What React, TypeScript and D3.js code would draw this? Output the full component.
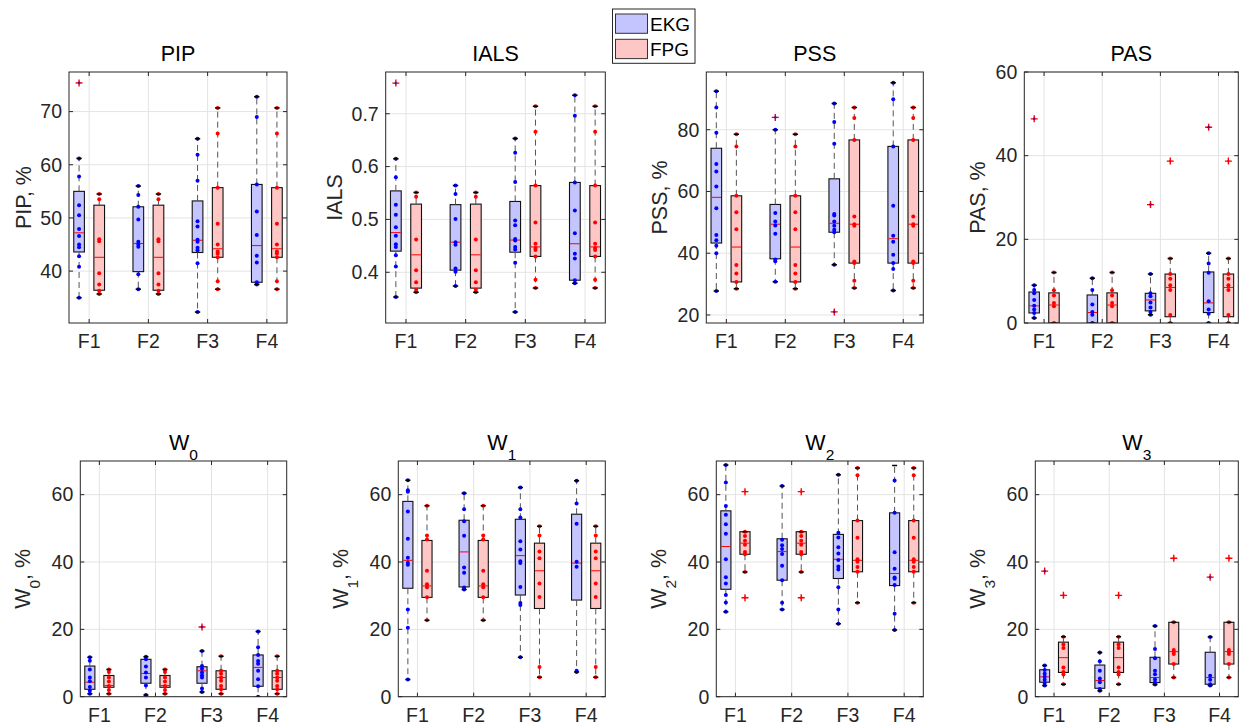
import React from 'react';
import * as d3 from 'd3';

const categories = ['F1', 'F2', 'F3', 'F4'];
const seriesNames = ['EKG', 'FPG'];

// stats per category: [whiskerLow, q1, median, q3, whiskerHigh]
// ---------- PIP ----------
const pipEkgStats = [[35.0, 43.6, 47.2, 55.0, 61.2], [36.6, 39.9, 45.2, 52.1, 56.0], [32.3, 43.5, 45.8, 53.2, 64.9], [37.5, 37.9, 44.8, 56.3, 72.8]];
const pipEkgPts = [[61.2, 57.8, 52.4, 50.5, 47.9, 46.6, 45.0, 44.5, 42.8, 40.8, 35.0], [56.0, 54.3, 52.1, 49.7, 45.5, 45.0, 44.6, 39.4, 36.6], [64.9, 61.9, 57.0, 49.4, 48.4, 45.9, 45.5, 44.4, 43.9, 41.5, 32.3], [72.8, 69.0, 56.3, 51.2, 46.8, 42.9, 41.6, 37.9, 37.5]];
const pipEkgOut = [[75.4], [], [], []];
const pipFpgStats = [[35.7, 36.4, 42.6, 52.4, 54.5], [35.7, 36.4, 42.6, 52.4, 54.5], [36.6, 42.6, 44.2, 55.7, 70.7], [36.6, 42.6, 44.2, 55.7, 70.7]];
const pipFpgPts = [[54.5, 53.5, 46.0, 45.6, 39.6, 37.5, 36.3, 35.7], [54.5, 53.5, 46.0, 45.6, 39.6, 37.5, 36.3, 35.7], [70.7, 65.9, 55.7, 48.9, 45.0, 43.7, 43.3, 42.6, 38.1, 36.6], [70.7, 65.9, 55.7, 48.9, 45.0, 43.7, 43.3, 42.6, 38.1, 36.6]];
const pipFpgOut = [[], [], [], []];
const pipTicks = [40, 50, 60, 70];

// ---------- IALS ----------
const ialsEkgStats = [[0.353, 0.440, 0.475, 0.554, 0.615], [0.374, 0.404, 0.457, 0.528, 0.564], [0.325, 0.438, 0.461, 0.534, 0.653], [0.379, 0.385, 0.454, 0.570, 0.735]];
const ialsEkgPts = [[0.615, 0.580, 0.528, 0.509, 0.485, 0.469, 0.453, 0.448, 0.432, 0.411, 0.353], [0.564, 0.548, 0.501, 0.457, 0.452, 0.407, 0.401, 0.374], [0.653, 0.626, 0.571, 0.498, 0.489, 0.463, 0.460, 0.448, 0.443, 0.418, 0.325], [0.735, 0.696, 0.570, 0.517, 0.474, 0.435, 0.426, 0.385, 0.379]];
const ialsEkgOut = [[0.758], [], [], []];
const ialsFpgStats = [[0.362, 0.370, 0.433, 0.529, 0.551], [0.362, 0.370, 0.433, 0.529, 0.551], [0.370, 0.430, 0.448, 0.564, 0.714], [0.370, 0.430, 0.448, 0.564, 0.714]];
const ialsFpgPts = [[0.551, 0.543, 0.462, 0.404, 0.381, 0.367, 0.362], [0.551, 0.543, 0.462, 0.404, 0.381, 0.367, 0.362], [0.714, 0.666, 0.564, 0.494, 0.454, 0.446, 0.442, 0.430, 0.386, 0.370], [0.714, 0.666, 0.564, 0.494, 0.454, 0.446, 0.442, 0.430, 0.386, 0.370]];
const ialsFpgOut = [[], [], [], []];
const ialsTicks = [0.4, 0.5, 0.6, 0.7];

// ---------- PSS ----------
const pssEkgStats = [[27.8, 43.3, 58.1, 74.0, 92.5], [30.8, 38.2, 49.4, 55.8, 80.0], [36.3, 46.8, 49.7, 64.1, 88.5], [27.9, 36.8, 44.7, 74.6, 95.2]];
const pssEkgPts = [[92.5, 87.2, 79.0, 68.9, 66.5, 61.6, 54.6, 45.9, 44.2, 42.4, 40.0, 27.8], [80.0, 53.0, 50.3, 49.0, 46.3, 38.0, 37.4, 30.8], [88.5, 82.5, 75.5, 52.7, 52.2, 50.3, 48.9, 47.6, 46.8, 36.3], [95.2, 89.9, 74.6, 55.4, 45.7, 43.7, 39.5, 36.8, 34.9, 27.9]];
const pssEkgOut = [[], [84.0], [21.0], []];
const pssFpgStats = [[28.5, 30.7, 42.0, 58.6, 78.5], [28.5, 30.7, 42.0, 58.6, 78.5], [28.7, 36.8, 49.4, 76.7, 87.2], [28.7, 36.8, 49.4, 76.7, 87.2]];
const pssFpgPts = [[78.5, 74.6, 58.6, 53.3, 47.8, 36.2, 33.4, 30.7, 28.5], [78.5, 74.6, 58.6, 53.3, 47.8, 36.2, 33.4, 30.7, 28.5], [87.2, 83.8, 76.7, 51.9, 49.4, 48.9, 37.3, 36.8, 31.1, 28.7], [87.2, 83.8, 76.7, 51.9, 49.4, 48.9, 37.3, 36.8, 31.1, 28.7]];
const pssFpgOut = [[], [], [], []];
const pssTicks = [20, 40, 60, 80];

// ---------- PAS ----------
const pasEkgStats = [[1.2, 2.4, 4.1, 7.4, 9.0], [0, 0, 2.5, 6.7, 10.7], [2.0, 2.9, 5.5, 7.1, 11.7], [0, 2.5, 4.8, 12.2, 16.7]];
const pasEkgPts = [[9.0, 7.9, 7.1, 5.5, 4.1, 3.2, 2.4, 1.2], [10.7, 7.9, 4.4, 2.6, 2.0, 0], [11.7, 7.1, 6.4, 4.9, 3.7, 2.6, 2.0], [16.7, 14.2, 12.0, 5.2, 3.2, 2.2, 0]];
const pasEkgOut = [[48.8], [], [28.3], [46.8]];
const pasFpgStats = [[0, 0, 4.3, 7.2, 12.1], [0, 0, 4.3, 7.2, 12.1], [0, 1.5, 8.5, 11.7, 15.4], [0, 1.5, 8.5, 11.7, 15.4]];
const pasFpgPts = [[12.1, 7.8, 6.6, 4.8, 4.0, 0], [12.1, 7.8, 6.6, 4.8, 4.0, 0], [15.4, 11.7, 10.6, 9.0, 7.9, 1.9, 0], [15.4, 11.7, 10.6, 9.0, 7.9, 1.9, 0]];
const pasFpgOut = [[], [], [38.7], [38.7]];
const pasTicks = [0, 20, 40, 60];

// ---------- W0 ----------
const w0EkgStats = [[0.9, 2.2, 4.3, 9.1, 11.7], [0.5, 4.0, 6.9, 11.1, 11.9], [1.4, 4.0, 7.7, 8.9, 13.6], [0, 3.1, 8.7, 12.4, 19.4]];
const w0EkgPts = [[11.7, 10.7, 8.1, 5.7, 4.6, 2.9, 1.8, 0.9], [11.9, 11.1, 9.0, 7.2, 5.7, 3.3, 0.5], [13.6, 9.1, 8.3, 7.2, 6.4, 5.7, 2.4, 1.4], [19.4, 14.7, 12.4, 10.6, 9.8, 7.7, 5.2, 3.1, 0]];
const w0EkgOut = [[], [], [20.7], []];
const w0FpgStats = [[0.9, 2.8, 3.3, 6.3, 8.1], [0.9, 2.8, 3.3, 6.3, 8.1], [0.9, 2.2, 5.7, 7.7, 12.0], [0.9, 2.2, 5.7, 7.7, 12.0]];
const w0FpgPts = [[8.1, 7.3, 5.7, 4.5, 3.2, 2.0, 0.9], [8.1, 7.3, 5.7, 4.5, 3.2, 2.0, 0.9], [12.0, 7.7, 6.8, 5.7, 4.7, 3.2, 2.2, 0.9], [12.0, 7.7, 6.8, 5.7, 4.7, 3.2, 2.2, 0.9]];
const w0FpgOut = [[], [], [], []];

// ---------- W1 ----------
const w1EkgStats = [[5.1, 32.2, 40.5, 58.0, 64.3], [31.8, 32.6, 43.0, 52.4, 60.4], [11.7, 30.2, 41.9, 52.7, 62.1], [7.3, 28.7, 39.7, 54.2, 64.1]];
const w1EkgPts = [[64.3, 61.3, 60.9, 55.0, 46.9, 41.3, 39.8, 39.2, 25.9, 20.5, 5.1], [60.4, 55.7, 52.1, 47.8, 38.4, 36.8, 32.4, 31.8], [62.1, 55.7, 53.2, 46.2, 43.7, 40.2, 39.7, 32.6, 27.8, 27.2, 11.7], [64.1, 57.4, 51.4, 40.1, 38.6, 7.7, 7.3]];
const w1EkgOut = [[], [], [], []];
const w1FpgStats = [[22.7, 29.5, 32.9, 46.4, 56.7], [22.7, 29.5, 32.9, 46.4, 56.7], [5.8, 26.2, 37.4, 45.6, 50.6], [5.8, 26.2, 37.4, 45.6, 50.6]];
const w1FpgPts = [[56.7, 47.9, 46.7, 37.4, 33.4, 32.5, 29.5, 22.7], [56.7, 47.9, 46.7, 37.4, 33.4, 32.5, 29.5, 22.7], [50.6, 47.9, 43.1, 41.1, 33.6, 29.6, 8.8, 5.8], [50.6, 47.9, 43.1, 41.1, 33.6, 29.6, 8.8, 5.8]];
const w1FpgOut = [[], [], [], []];

// ---------- W2 ----------
const w2EkgStats = [[25.2, 31.9, 44.6, 55.2, 68.8], [25.9, 34.6, 43.1, 46.9, 62.6], [21.7, 35.1, 40.8, 48.2, 65.9], [19.8, 33.0, 36.6, 54.6, 68.7]];
const w2EkgPts = [[68.8, 63.6, 56.6, 54.0, 51.2, 48.4, 40.8, 35.5, 33.6, 30.2, 28.0, 25.2], [62.6, 46.6, 45.0, 43.9, 42.4, 38.9, 34.6, 27.9, 25.9], [65.9, 48.7, 47.3, 44.4, 42.5, 40.6, 38.7, 37.8, 32.5, 25.9, 21.7], [64.2, 54.6, 42.9, 38.0, 35.4, 35.0, 33.2, 24.6, 19.8]];
const w2EkgOut = [[], [], [], []];
const w2FpgStats = [[37.0, 42.3, 45.6, 49.0, 49.0], [37.0, 42.3, 45.6, 49.0, 49.0], [27.9, 37.1, 40.5, 52.3, 67.9], [27.9, 37.1, 40.5, 52.3, 67.9]];
const w2FpgPts = [[49.0, 47.7, 46.3, 45.1, 43.0, 42.3, 37.0], [49.0, 47.7, 46.3, 45.1, 43.0, 42.3, 37.0], [67.9, 65.8, 52.3, 47.2, 40.8, 40.1, 38.5, 37.1, 27.9], [67.9, 65.8, 52.3, 47.2, 40.8, 40.1, 38.5, 37.1, 27.9]];
const w2FpgOut = [[60.9, 29.4], [60.9, 29.4], [], []];

// ---------- W3 ----------
const w3EkgStats = [[3.3, 4.3, 5.9, 8.0, 9.3], [1.8, 2.5, 4.8, 9.4, 13.1], [3.6, 4.2, 5.7, 11.7, 21.0], [3.3, 3.7, 5.7, 13.2, 17.7]];
const w3EkgPts = [[9.3, 7.9, 6.8, 5.9, 5.0, 4.1, 3.3], [13.1, 10.5, 7.7, 5.4, 4.3, 2.3, 1.8], [21.0, 14.2, 11.4, 7.7, 6.7, 5.1, 4.2, 3.6], [17.7, 6.2, 5.0, 3.7, 3.3]];
const w3EkgOut = [[37.3], [], [], [35.5]];
const w3FpgStats = [[3.7, 7.2, 11.6, 16.2, 17.8], [3.7, 7.2, 11.6, 16.2, 17.8], [5.7, 9.7, 13.4, 22.1, 22.1], [5.7, 9.7, 13.4, 22.1, 22.1]];
const w3FpgPts = [[17.8, 15.5, 14.5, 8.7, 7.3, 6.6, 3.7], [17.8, 15.5, 14.5, 8.7, 7.3, 6.6, 3.7], [22.1, 13.9, 13.3, 12.7, 9.7, 5.7], [22.1, 13.9, 13.3, 12.7, 9.7, 5.7]];
const w3FpgOut = [[30.1], [30.1], [41.1], [41.1]];
const wTicks = [0, 20, 40, 60];

// ---------- layout / style ----------
const FONT = '"Liberation Sans", Arial, Helvetica, sans-serif';
const TXT = '#262626';
const GRID = '#e3e3e3';
const EKG_FILL = '#c4c4ff';
const FPG_FILL = '#ffc6c6';
const X_DOMAIN: [number, number] = [0.66, 4.34];
const OFFSET = 0.17;
const BOX_W = 0.18;

type Series = { stats: number[][]; pts: number[][]; out: number[][] };
type PanelDef = {
  title: string; sub?: string; ylab: string; domain: [number, number]; ticks: number[];
  ekg: Series; fpg: Series; rect: [number, number, number, number]; ylabOff: number; fmt?: (v: number) => string;
};

const panels: PanelDef[] = [
  { title: 'PIP', ylab: 'PIP, %', domain: [30.24, 77.45], ticks: pipTicks, ekg: { stats: pipEkgStats, pts: pipEkgPts, out: pipEkgOut }, fpg: { stats: pipFpgStats, pts: pipFpgPts, out: pipFpgOut }, rect: [69, 72, 287, 323], ylabOff: 38 },
  { title: 'IALS', ylab: 'IALS', domain: [0.304, 0.779], ticks: ialsTicks, ekg: { stats: ialsEkgStats, pts: ialsEkgPts, out: ialsEkgOut }, fpg: { stats: ialsFpgStats, pts: ialsFpgPts, out: ialsFpgOut }, rect: [385.7, 72, 605.3, 323], ylabOff: 44, fmt: (v) => v.toFixed(1) },
  { title: 'PSS', ylab: 'PSS, %', domain: [17.4, 98.7], ticks: pssTicks, ekg: { stats: pssEkgStats, pts: pssEkgPts, out: pssEkgOut }, fpg: { stats: pssFpgStats, pts: pssFpgPts, out: pssFpgOut }, rect: [706.3, 72, 923.3, 323], ylabOff: 39 },
  { title: 'PAS', ylab: 'PAS, %', domain: [0, 60], ticks: pasTicks, ekg: { stats: pasEkgStats, pts: pasEkgPts, out: pasEkgOut }, fpg: { stats: pasFpgStats, pts: pasFpgPts, out: pasFpgOut }, rect: [1024.3, 72, 1238.3, 323], ylabOff: 39 },
  { title: 'W', sub: '0', ylab: 'W', domain: [0, 70], ticks: wTicks, ekg: { stats: w0EkgStats, pts: w0EkgPts, out: w0EkgOut }, fpg: { stats: w0FpgStats, pts: w0FpgPts, out: w0FpgOut }, rect: [80.3, 461, 286.7, 696.7], ylabOff: 50 },
  { title: 'W', sub: '1', ylab: 'W', domain: [0, 70], ticks: wTicks, ekg: { stats: w1EkgStats, pts: w1EkgPts, out: w1EkgOut }, fpg: { stats: w1FpgStats, pts: w1FpgPts, out: w1FpgOut }, rect: [398.3, 461, 605.3, 696.7], ylabOff: 50 },
  { title: 'W', sub: '2', ylab: 'W', domain: [0, 70], ticks: wTicks, ekg: { stats: w2EkgStats, pts: w2EkgPts, out: w2EkgOut }, fpg: { stats: w2FpgStats, pts: w2FpgPts, out: w2FpgOut }, rect: [716.3, 461, 923.3, 696.7], ylabOff: 50 },
  { title: 'W', sub: '3', ylab: 'W', domain: [0, 70], ticks: wTicks, ekg: { stats: w3EkgStats, pts: w3EkgPts, out: w3EkgOut }, fpg: { stats: w3FpgStats, pts: w3FpgPts, out: w3FpgOut }, rect: [1035.3, 461, 1238.3, 696.7], ylabOff: 50 },
];

function Panel({ p }: { p: PanelDef }) {
  const [x0, y0, x1, y1] = p.rect;
  const xs = d3.scaleLinear().domain(X_DOMAIN).range([x0, x1]);
  const ys = d3.scaleLinear().domain(p.domain).range([y1, y0]);
  const bw = xs(BOX_W) - xs(0);
  const capW = bw * 0.25;
  const fmt = p.fmt || ((v: number) => String(v));
  const series = [
    { name: seriesNames[0], off: -OFFSET, fill: EKG_FILL, dot: '#0000ff', d: p.ekg },
    { name: seriesNames[1], off: OFFSET, fill: FPG_FILL, dot: '#ff0000', d: p.fpg },
  ];
  const cx = (x0 + x1) / 2;
  const cy = (y0 + y1) / 2;
  const titleY = y0 - 11;
  return (
    <g fontFamily={FONT}>
      <defs>
        <clipPath id={`clip-${p.rect[0]}-${p.rect[1]}`}>
          <rect x={x0} y={y0} width={x1 - x0} height={y1 - y0} />
        </clipPath>
      </defs>
      <rect x={x0} y={y0} width={x1 - x0} height={y1 - y0} fill="#fff" />
      {/* grid */}
      {categories.map((c, i) => (
        <line key={'gx' + c} x1={xs(i + 1)} x2={xs(i + 1)} y1={y0} y2={y1} stroke={GRID} strokeWidth={1} />
      ))}
      {p.ticks.map((t) => (
        <line key={'gy' + t} x1={x0} x2={x1} y1={ys(t)} y2={ys(t)} stroke={GRID} strokeWidth={1} />
      ))}
      <g clipPath={`url(#clip-${p.rect[0]}-${p.rect[1]})`}>
        {series.map((s) =>
          categories.map((c, i) => {
            const [wlo, q1, med, q3, whi] = s.d.stats[i];
            const x = xs(i + 1 + s.off);
            return (
              <g key={s.name + c}>
                <rect x={x - bw / 2} y={ys(q3)} width={bw} height={Math.max(0, ys(q1) - ys(q3))} fill={s.fill} stroke="#111" strokeWidth={1.1} />
                <line x1={x} x2={x} y1={ys(q3)} y2={ys(whi)} stroke="#555" strokeWidth={1} strokeDasharray="6,4" />
                <line x1={x} x2={x} y1={ys(q1)} y2={ys(wlo)} stroke="#555" strokeWidth={1} strokeDasharray="6,4" />
                <line x1={x - bw / 2 + 0.5} x2={x + bw / 2 - 0.5} y1={ys(med)} y2={ys(med)} stroke="#ff0000" strokeWidth={1} />
                {s.d.pts[i].map((v, k) => (
                  <circle key={k} cx={x} cy={ys(v)} r={2} fill={s.dot} />
                ))}
                <line x1={x - capW} x2={x + capW} y1={ys(whi)} y2={ys(whi)} stroke="#000" strokeWidth={1.5} />
                <line x1={x - capW} x2={x + capW} y1={ys(wlo)} y2={ys(wlo)} stroke="#000" strokeWidth={1.5} />
                {s.d.out[i].map((v, k) => (
                  <g key={'o' + k}>
                    <line x1={x - 3.5} x2={x + 3.5} y1={ys(v)} y2={ys(v)} stroke="#ff0000" strokeWidth={1.4} />
                    <line x1={x} x2={x} y1={ys(v) - 3.5} y2={ys(v) + 3.5} stroke="#ff0000" strokeWidth={1.4} />
                    <circle cx={x} cy={ys(v)} r={1.4} fill={s.dot} opacity={0.6} />
                  </g>
                ))}
              </g>
            );
          })
        )}
      </g>
      {/* ticks */}
      {p.ticks.map((t) => (
        <g key={'ty' + t}>
          <line x1={x0} x2={x0 + 4} y1={ys(t)} y2={ys(t)} stroke={TXT} />
          <line x1={x1 - 4} x2={x1} y1={ys(t)} y2={ys(t)} stroke={TXT} />
          <text x={x0 - 7} y={ys(t)} dy="0.35em" textAnchor="end" fontSize={19.5} fill={TXT}>{fmt(t)}</text>
        </g>
      ))}
      {categories.map((c, i) => (
        <g key={'tx' + c}>
          <line x1={xs(i + 1)} x2={xs(i + 1)} y1={y1} y2={y1 - 4} stroke={TXT} />
          <line x1={xs(i + 1)} x2={xs(i + 1)} y1={y0} y2={y0 + 4} stroke={TXT} />
          <text x={xs(i + 1)} y={y1 + 25} textAnchor="middle" fontSize={19.5} fill={TXT}>{c}</text>
        </g>
      ))}
      <rect x={x0} y={y0} width={x1 - x0} height={y1 - y0} fill="none" stroke={TXT} strokeWidth={1} />
      {/* title */}
      <text x={cx} y={titleY} textAnchor="middle" fontSize={21.5} fill="#000">
        {p.title}
        {p.sub && <tspan dy={10} fontSize={15.5}>{p.sub}</tspan>}
      </text>
      {/* y label */}
      <text transform={`translate(${x0 - p.ylabOff},${cy}) rotate(-90)`} textAnchor="middle" fontSize={21.5} fill={TXT}>
        {p.ylab}
        {p.sub ? (
          <>
            <tspan dy={10} fontSize={15.5}>{p.sub}</tspan>
            <tspan dy={-10}>, %</tspan>
          </>
        ) : null}
      </text>
    </g>
  );
}

function Legend() {
  const items = [
    { name: seriesNames[0], fill: EKG_FILL },
    { name: seriesNames[1], fill: FPG_FILL },
  ];
  return (
    <g fontFamily={FONT}>
      <rect x={612.5} y={9} width={82.5} height={54.3} fill="#fff" stroke="#262626" strokeWidth={1} />
      {items.map((it, i) => (
        <g key={it.name}>
          <rect x={615.5} y={14 + i * 25.3} width={32} height={19.3} fill={it.fill} stroke="#333" strokeWidth={1} />
          <text x={650} y={24 + i * 25.3} dy="0.36em" fontSize={19} fill="#000">{it.name}</text>
        </g>
      ))}
    </g>
  );
}

export default function App() {
  return (
    <svg width={1250} height={726} style={{ position: 'absolute', left: 0, top: 0, display: 'block', background: '#fff' }}>
      <rect x={0} y={0} width={1250} height={726} fill="#fff" />
      {panels.map((p, i) => (
        <Panel key={i} p={p} />
      ))}
      <Legend />
    </svg>
  );
}
